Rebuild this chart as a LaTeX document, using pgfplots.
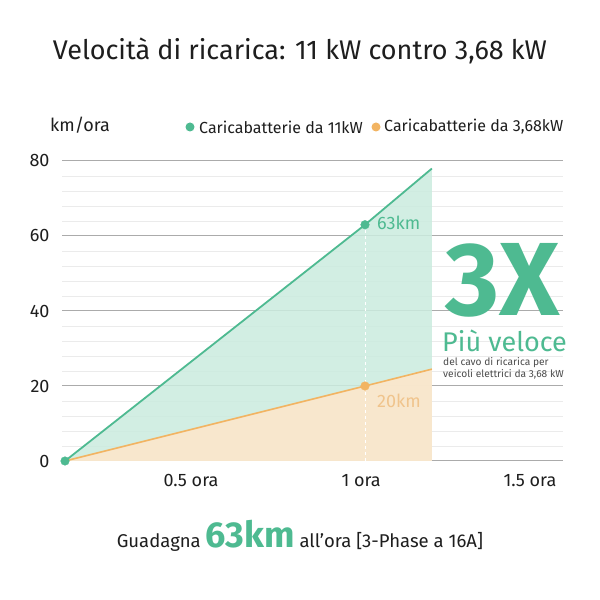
\documentclass[border=0pt]{standalone}
\usepackage{pgfplots}
\pgfplotsset{compat=1.18}
\usepackage{fontspec}
\setmainfont{Fira Sans}
\definecolor{gline}{RGB}{78,186,145}
\definecolor{gfill}{RGB}{203,236,223}
\definecolor{oline}{RGB}{242,180,98}
\definecolor{ofill}{RGB}{253,231,203}
\definecolor{olab}{RGB}{240,196,140}
\definecolor{txt}{RGB}{30,30,30}
\begin{document}
\begin{tikzpicture}[x=1pt,y=1pt]
\useasboundingbox[fill=white] (0,0) rectangle (600,600);
\begin{axis}[
  at={(62pt,139pt)}, anchor=south west,
  width=501pt, height=300pt, scale only axis,
  xmin=-0.01, xmax=1.66, ymin=0, ymax=80,
  clip=false,
  axis line style={draw=none},
  major tick length=0pt, minor tick length=0pt,
  ytick={0,20,40,60,80},
  minor y tick num=4,
  ymajorgrids, yminorgrids,
  major grid style={draw=black!33, line width=1pt},
  minor grid style={draw=black!8, line width=0.7pt},
  xtick={0.42,0.987,1.55},
  xticklabels={0.5 ora,1 ora,1.5 ora},
  tick label style={font=\fontsize{18}{21}\selectfont, text=txt},
  yticklabel style={anchor=east, xshift=-9pt},
  xticklabel style={yshift=-10pt},
  /pgf/number format/assume math mode=true,
]
\addplot[draw=none, fill=gfill, fill opacity=0.85] coordinates {(0,0) (1,63) (1.223,78)} \closedcycle;
\addplot[draw=none, fill=ofill, fill opacity=0.9] coordinates {(0,0) (1,20) (1.223,24.5)} \closedcycle;
\addplot[white, dashed, line width=0.8pt] coordinates {(1,0) (1,63)};
\addplot[oline, line width=1.6pt] coordinates {(0,0) (1,20) (1.223,24.5)};
\addplot[gline, line width=1.8pt] coordinates {(0,0) (1,63) (1.223,78)};
\addplot[only marks, mark=*, mark size=4.3pt, oline] coordinates {(1,20)};
\addplot[only marks, mark=*, mark size=4.3pt, gline] coordinates {(0,0) (1,63)};
\node[anchor=west, text=gline, font=\fontsize{18}{21}\selectfont, inner sep=0pt] at (axis cs:1.04,63.5) {63km};
\node[anchor=west, text=olab, font=\fontsize{18}{21}\selectfont, inner sep=0pt] at (axis cs:1.04,16) {20km};
\end{axis}
% title and annotations
\node[text=txt, font=\fontsize{27}{30}\selectfont, inner sep=0pt] at (300,549) {Velocità di ricarica: 11 kW contro 3,68 kW};
\node[anchor=west, text=txt, font=\fontsize{18}{21}\selectfont, inner sep=0pt] at (50,475) {km/ora};
\fill[gline] (190,473) circle (4.5);
\node[anchor=west, text=txt, font=\fontsize{16}{19}\selectfont, inner sep=0pt] at (199,473) {Caricabatterie da 11kW};
\fill[oline] (376,473) circle (4.5);
\node[anchor=west, text=txt, font=\fontsize{16}{19}\selectfont, inner sep=0pt] at (384,473) {Caricabatterie da 3,68kW};
\node[anchor=base, text=gline, font=\fontsize{104}{104}\bfseries, inner sep=0pt] at (503,284) {3X};
\node[anchor=base west, text=gline, font=\fontsize{27}{30}\selectfont, inner sep=0pt] at (442,248) {Più veloce};
\node[anchor=west, text=black!70, font=\fontsize{10.2}{12}\selectfont, inner sep=0pt] at (443,237) {del cavo di ricarica per};
\node[anchor=west, text=black!70, font=\fontsize{10.2}{12}\selectfont, inner sep=0pt] at (443,226) {veicoli elettrici da 3,68 kW};
\node[anchor=base, text=txt, inner sep=0pt] at (300,52) {\fontsize{18.5}{22}\selectfont Guadagna \textcolor{gline}{\fontsize{36}{40}\selectfont\bfseries 63km} all'ora [3-Phase a 16A]};
\end{tikzpicture}
\end{document}
